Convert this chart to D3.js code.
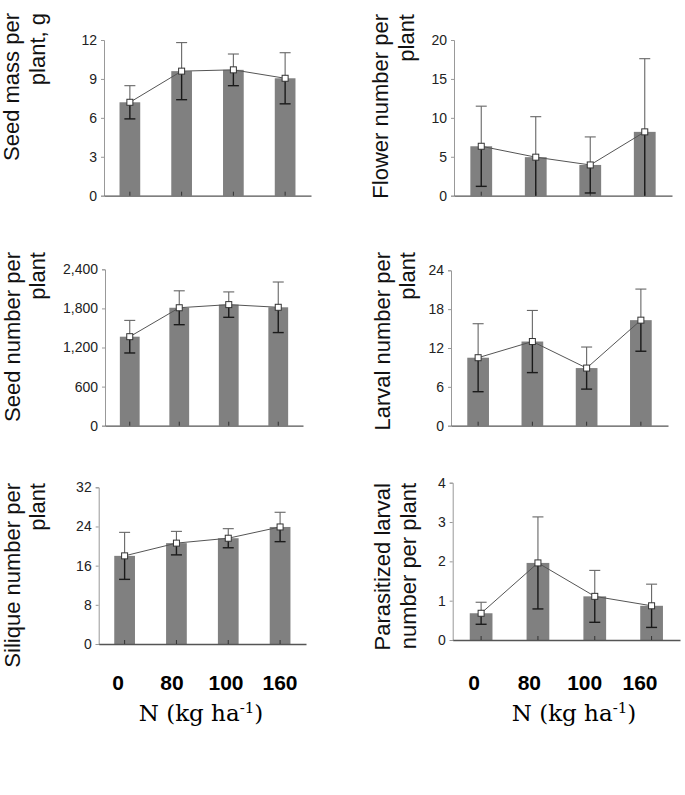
<!DOCTYPE html>
<html>
<head>
<meta charset="utf-8">
<script src="https://cdn.jsdelivr.net/npm/d3@7"></script>
<style>
  html, body { margin: 0; padding: 0; background: #fff; }
  svg { display: block; }
</style>
</head>
<body>
<svg id="chart" width="685" height="795"></svg>
<script>
// ---------- data ----------
const categories = ["0", "80", "100", "160"];

const seedMass = [7.2, 9.6, 9.7, 9.05];
const seedMassErr = [1.28, 2.2, 1.22, 1.97];
const seedMassTicks = [0, 3, 6, 9, 12];

const flowerNumber = [6.35, 4.95, 3.95, 8.2];
const flowerNumberErr = [5.15, 5.2, 3.6, 9.4];
const flowerNumberTicks = [0, 5, 10, 15, 20];

const seedNumber = [1366, 1810, 1858, 1817];
const seedNumberErr = [250, 260, 195, 388];
const seedNumberTicks = [0, 600, 1200, 1800, 2400];

const larvalNumber = [10.5, 13.0, 8.9, 16.3];
const larvalNumberErr = [5.25, 4.8, 3.25, 4.8];
const larvalNumberTicks = [0, 6, 12, 18, 24];

const siliqueNumber = [18.0, 20.6, 21.6, 23.9];
const siliqueNumberErr = [4.8, 2.4, 1.95, 3.0];
const siliqueNumberTicks = [0, 8, 16, 24, 32];

const parasitized = [0.68, 1.96, 1.11, 0.87];
const parasitizedErr = [0.28, 1.17, 0.66, 0.55];
const parasitizedTicks = [0, 1, 2, 3, 4];

const yLabels = [
  ["Seed mass per", "plant, g"],
  ["Flower number per", "plant"],
  ["Seed number per", "plant"],
  ["Larval number per", "plant"],
  ["Silique number per", "plant"],
  ["Parasitized larval", "number per plant"]
];
const xTitle = "N (kg ha";
const xTitleSup = "-1";

// ---------- layout ----------
const panels = [
  { values: seedMass, err: seedMassErr, ticks: seedMassTicks, label: yLabels[0],
    x0: 104, x1: 311, yTop: 40, yBot: 195.7, lx1: 19, lx2: 45, ly: 13 },
  { values: flowerNumber, err: flowerNumberErr, ticks: flowerNumberTicks, label: yLabels[1],
    x0: 454, x1: 672, yTop: 40, yBot: 195.7, lx1: 388, lx2: 414, ly: 14 },
  { values: seedNumber, err: seedNumberErr, ticks: seedNumberTicks, label: yLabels[2],
    x0: 105, x1: 303, yTop: 269.3, yBot: 425.7, lx1: 20, lx2: 45, ly: 252 },
  { values: larvalNumber, err: larvalNumberErr, ticks: larvalNumberTicks, label: yLabels[3],
    x0: 451, x1: 668, yTop: 270.3, yBot: 425.7, lx1: 390, lx2: 415, ly: 252 },
  { values: siliqueNumber, err: siliqueNumberErr, ticks: siliqueNumberTicks, label: yLabels[4],
    x0: 98.7, x1: 306, yTop: 487.3, yBot: 644, lx1: 20, lx2: 45, ly: 483 },
  { values: parasitized, err: parasitizedErr, ticks: parasitizedTicks, label: yLabels[5],
    x0: 452.7, x1: 680, yTop: 482.7, yBot: 640, lx1: 390, lx2: 416, ly: 483 }
];

const svg = d3.select("#chart");
const fmt = d3.format(",");

panels.forEach(p => {
  const g = svg.append("g");
  const x = d3.scaleBand().domain(categories).range([p.x0, p.x1])
    .paddingInner(0.6).paddingOuter(0.3);
  const ymax = p.ticks[p.ticks.length - 1];
  const y = d3.scaleLinear().domain([0, ymax]).range([p.yBot, p.yTop]).clamp(true);
  const cx = c => x(c) + x.bandwidth() / 2;

  // bars
  g.selectAll("rect.bar").data(categories).enter().append("rect")
    .attr("x", c => x(c))
    .attr("width", x.bandwidth())
    .attr("y", (c, i) => y(p.values[i]))
    .attr("height", (c, i) => p.yBot - y(p.values[i]))
    .attr("fill", "#808080");

  // y axis
  const yAxis = d3.axisLeft(y).tickValues(p.ticks).tickSize(3).tickPadding(4)
    .tickFormat(d => fmt(d));
  const ya = g.append("g").attr("transform", `translate(${p.x0},0)`).call(yAxis);
  ya.select(".domain").attr("stroke", "#999").attr("stroke-width", 1);
  ya.selectAll(".tick line").attr("stroke", "#999");
  ya.selectAll(".tick text").attr("fill", "#222")
    .style("font-family", "Arial, 'Liberation Sans', sans-serif").style("font-size", "14px");

  // x axis (line + inward ticks at category centers)
  const xAxis = d3.axisBottom(x).tickSize(-4).tickFormat("").tickSizeOuter(0);
  const xa = g.append("g").attr("transform", `translate(0,${p.yBot})`).call(xAxis);
  xa.select(".domain").attr("stroke", "#555").attr("stroke-width", 1.3);
  xa.selectAll(".tick line").attr("stroke", "#333");

  // error bars: upper part (lighter), lower part (dark)
  const capW = 5.5;
  categories.forEach((c, i) => {
    const v = p.values[i], e = p.err[i];
    const hi = v + e, lo = v - e;
    const xc = cx(c);
    g.append("line").attr("x1", xc).attr("x2", xc)
      .attr("y1", y(v)).attr("y2", y(hi)).attr("stroke", "#666").attr("stroke-width", 1.1);
    g.append("line").attr("x1", xc - capW).attr("x2", xc + capW)
      .attr("y1", y(hi)).attr("y2", y(hi)).attr("stroke", "#666").attr("stroke-width", 1.1);
    g.append("line").attr("x1", xc).attr("x2", xc)
      .attr("y1", y(v)).attr("y2", y(lo)).attr("stroke", "#1a1a1a").attr("stroke-width", 1.4);
    if (lo > 0) {
      g.append("line").attr("x1", xc - capW).attr("x2", xc + capW)
        .attr("y1", y(lo)).attr("y2", y(lo)).attr("stroke", "#1a1a1a").attr("stroke-width", 1.4);
    }
  });

  // connecting line + markers
  const line = d3.line().x((d, i) => cx(categories[i])).y(d => y(d));
  g.append("path").datum(p.values).attr("d", line)
    .attr("fill", "none").attr("stroke", "#555").attr("stroke-width", 1);
  g.selectAll("rect.pt").data(p.values).enter().append("rect")
    .attr("x", (d, i) => cx(categories[i]) - 3)
    .attr("y", d => y(d) - 3)
    .attr("width", 6).attr("height", 6)
    .attr("fill", "#fff").attr("stroke", "#333").attr("stroke-width", 1);

  // y label (rotated, right-aligned toward top)
  const lab = g.append("g").style("font-family", "Arial, 'Liberation Sans', sans-serif")
    .style("font-size", "22px").attr("fill", "#111");
  [p.lx1, p.lx2].forEach((lx, k) => {
    lab.append("text")
      .attr("transform", `translate(${lx},${p.ly}) rotate(-90)`)
      .attr("text-anchor", "end")
      .text(p.label[k]);
  });
});

// ---------- x tick labels & titles ----------
const labelRows = [
  { r0: 118, r1: 280, tx: 201 },
  { r0: 474, r1: 640, tx: 574 }
];
labelRows.forEach(row => {
  const xs = d3.scalePoint().domain(categories).range([row.r0, row.r1]);
  svg.append("g").selectAll("text").data(categories).enter().append("text")
    .attr("x", d => xs(d)).attr("y", 690)
    .attr("text-anchor", "middle")
    .style("font-family", "Arial, 'Liberation Sans', sans-serif")
    .style("font-size", "21px").style("font-weight", "bold").attr("fill", "#000")
    .text(d => d);
  const t = svg.append("text").attr("x", row.tx).attr("y", 721)
    .attr("text-anchor", "middle")
    .style("font-family", "'DejaVu Serif', serif").style("font-size", "23px").attr("fill", "#000");
  t.append("tspan").text(xTitle);
  t.append("tspan").attr("dy", -8).style("font-size", "15px").text(xTitleSup);
  t.append("tspan").attr("dy", 8).text(")");
});
</script>
</body>
</html>
